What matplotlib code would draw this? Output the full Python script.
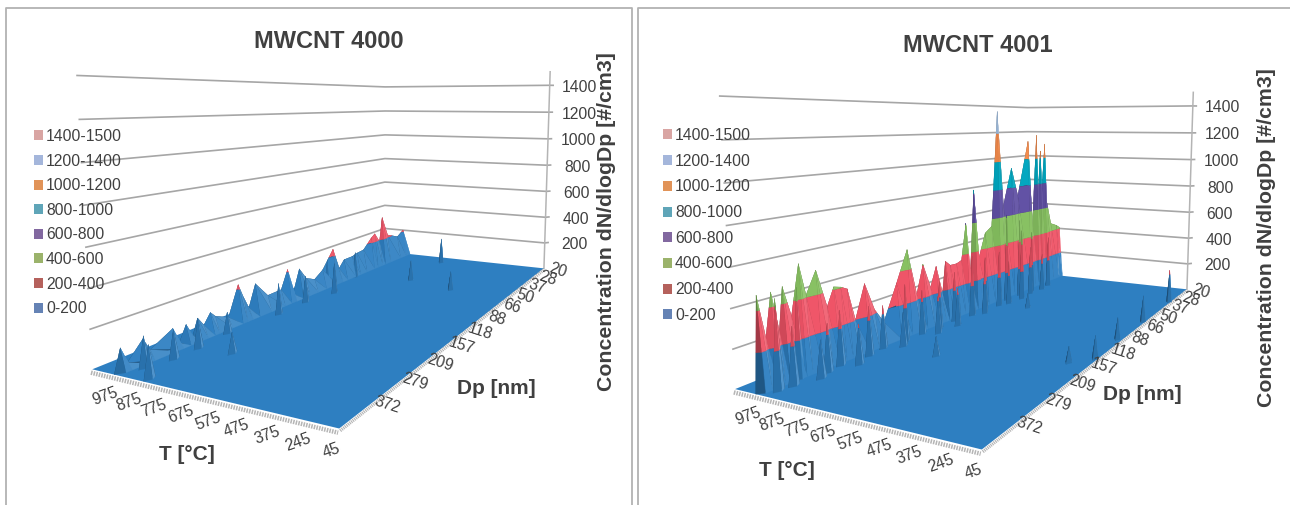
import numpy as np
import matplotlib
matplotlib.use("Agg")
import matplotlib.pyplot as plt
from matplotlib.colors import to_rgb
from matplotlib.lines import Line2D
from matplotlib.patches import Patch
from mpl_toolkits.mplot3d import proj3d
from mpl_toolkits.mplot3d.art3d import Poly3DCollection

plt.rcParams["font.family"] = ["Liberation Sans", "DejaVu Sans"]

W, H = 1290, 505

# axis categories
t_labels = ["45", "245", "375", "475", "575", "675", "775", "875", "975"]
dp_labels = ["20", "28", "37", "50", "66", "88", "118", "157", "209", "279", "372"]
z_ticks = [200, 400, 600, 800, 1000, 1200, 1400]
band_edges = [0, 200, 400, 600, 800, 1000, 1200, 1400, 1500]
band_labels = ["0-200", "200-400", "400-600", "600-800", "800-1000", "1000-1200", "1200-1400", "1400-1500"]
T_MAX, DP_MAX, Z_MAX = 8.9, 11.0, 1400.0

# surface colours per band and the paler legend swatches
band_colors = ["#2e7fc1", "#ef5366", "#86c060", "#5f4fa3", "#00a6bf", "#f28a4b", "#a5c3e6", "#e8a5a3"]
swatch_colors = ["#6583b5", "#b5615c", "#9bb36b", "#8268a0", "#5fa5b8", "#e19358", "#a4b6db", "#d9a5a3"]

# MWCNT 4000: ridge along the high temperature side (Dp channel, height)
ridge0_dp = [11.0, 10.85, 10.71, 10.35, 10.19, 9.63, 9.48, 9.29, 9.12, 8.98, 8.81, 8.62, 8.48, 8.09, 7.77, 7.61, 7.44,
             7.21, 6.79, 6.30, 6.05, 5.85, 5.59, 5.31, 4.96, 4.60, 4.13, 3.84, 3.60, 3.19, 2.94, 2.60, 2.18, 1.98, 1.71,
             1.56, 1.23, 0.62, 0.26, 0.0]
ridge0_z = [0, 118, 33, 120, 51, 116, 27, 110, 35, 122, 70, 126, 95, 58, 229, 144, 68,
            199, 99, 103, 218, 46, 195, 115, 86, 131, 250, 98, 147, 149, 161, 168, 239, 262, 188,
            373, 219, 176, 215, 0]
spike0_t = [6.75, 7.56, 5.96, 7.29, 7.45, 7.18, 6.88, 7.29, 4.9, 5.07, 2.6, 7.2, 7.6, 7.7, 7.5]
spike0_dp = [10.86, 10.53, 9.26, 9.33, 8.39, 6.86, 4.82, 9.97, 2.84, 0.6, 3.27, 5.8, 2.0, 4.4, 3.2]
spike0_z = [165, 160, 110, 160, 120, 190, 200, 150, 140, 190, 125, 170, 230, 190, 180]

# MWCNT 4001
ridge1_dp = [11.0, 10.90, 10.74, 10.60, 10.45, 10.35, 10.17, 9.97, 9.82, 9.57, 9.32, 9.14, 8.96, 8.79, 8.59, 8.31, 8.04,
             7.77, 7.35, 6.99, 6.69, 6.46, 6.20, 5.99, 5.76, 5.64, 5.45, 5.20, 5.0, 4.81, 4.64, 4.47, 4.26, 3.98, 3.68,
             3.41, 3.12, 2.73, 2.40, 1.87, 1.61, 1.41, 1.30, 1.19, 1.08, 0.94, 0.80, 0.54, 0.20, 0.0]
ridge1_z = [0, 475, 258, 473, 272, 486, 326, 581, 412, 528, 320, 416, 405, 385, 199, 388, 222,
            130, 337, 523, 232, 407, 248, 372, 187, 388, 353, 351, 365, 607, 246, 824, 348, 510, 548,
            1354, 680, 945, 733, 1135, 500, 1180, 720, 1055, 760, 1108, 650, 460, 433, 409]
spike1_t = [7.6, 7.5, 7.8, 7.4, 7.5, 7.3, 7.4, 7.2, 7.2, 7.0, 7.1, 6.9, 6.9, 6.7, 6.9, 6.8, 6.7,
            8.0, 7.9, 7.2, 7.0, 6.9, 6.7, 6.6, 6.6, 6.5, 6.4, 6.5, 6.5, 6.4,
            0.09, 0.1, 0.2, 0.1, 0.75, 5.37, 5.2]
spike1_dp = [10.7, 10.4, 10.1, 9.6, 9.2, 8.5, 8.0, 7.4, 6.8, 6.3, 5.6, 5.0, 4.4, 3.9, 3.3, 2.7, 2.1,
             10.85, 10.55, 9.9, 9.0, 7.7, 6.6, 5.9, 4.7, 3.6, 3.0, 2.4, 1.3, 1.8,
             1.57, 3.66, 5.2, 6.6, 7.05, 3.77, 7.9]
spike1_z = [420, 300, 470, 260, 300, 280, 250, 340, 270, 300, 320, 400, 360, 380, 620, 560, 450,
            300, 440, 200, 220, 200, 230, 240, 300, 300, 500, 350, 380, 270,
            230, 170, 130, 130, 90, 100, 110]


def clip_z(poly, level, keep_above):
    out = []
    for i in range(len(poly)):
        a, b = poly[i], poly[(i + 1) % len(poly)]
        ina = a[2] >= level if keep_above else a[2] <= level
        inb = b[2] >= level if keep_above else b[2] <= level
        if ina:
            out.append(a)
        if ina != inb:
            out.append(a + (b - a) * (level - a[2]) / (b[2] - a[2]))
    return out


def shade(color, tri):
    # flat shading like the Excel surface: dark to one side, pale to the other
    sp = np.array([T_MAX, DP_MAX, Z_MAX]) * np.array([1.0, 0.44, 0.98])
    n = np.cross((tri[1] - tri[0]) / sp, (tri[2] - tri[0]) / sp)
    n = n / (np.linalg.norm(n) + 1e-12)
    if n[2] < 0:
        n = -n
    d = n @ np.array([-0.6, -0.6, 0.5])
    f = 1 + (d - 0.5) * 0.6
    c = np.array(to_rgb(color))
    if f > 1:
        return c + (1 - c) * min((f - 1) * 0.8, 0.16)
    return c * max(f, 0.6)


def add_triangles(tris, polys, cols):
    for tri in tris:
        tri = np.array(tri, float)
        for i in range(len(band_colors)):
            lo, hi = band_edges[i], band_edges[i + 1]
            if tri[:, 2].max() <= lo or tri[:, 2].min() >= hi:
                continue
            p = clip_z(list(tri), lo, True)
            if len(p) >= 3:
                p = clip_z(p, hi, False)
            if len(p) >= 3:
                polys.append(np.array(p))
                cols.append(shade(band_colors[i], tri))


def ridge_triangles(t, dp, z, front, back):
    tris = []
    for j in range(len(t) - 1):
        k = j + 1
        fa, fb = (t[j] - front, dp[j], 0), (t[k] - front, dp[k], 0)
        ta, tb = (t[j], dp[j], z[j]), (t[k], dp[k], z[k])
        ba, bb = (t[j] + back, dp[j], 0), (t[k] + back, dp[k], 0)
        tris += [(ba, bb, ta), (bb, tb, ta), (fa, fb, ta), (fb, tb, ta)]
    return tris


def spike_triangles(t, dp, z, wt, wd):
    tris = []
    for a, b, c in zip(t, dp, z):
        top = (a, b, c)
        rim = [(a - wt, b, 0), (a, b + wd, 0), (a + wt, b, 0), (a, b - wd, 0)]
        for i in range(4):
            tris.append((rim[i], rim[(i + 1) % 4], top))
    return tris


def label(ax, x, y, z, s, dx, dy, rot=0):
    u, v, _ = proj3d.proj_transform(x, y, z, ax.get_proj())
    ax.annotate(s, (u, v), xytext=(dx, dy), textcoords="offset pixels", color="#404040", ha="center", va="center",
                fontsize=11.3, rotation=rot, zorder=6, annotation_clip=False)


def draw_panel(fig, rect, view, ridge_dp, ridge_z, ridge_ends, spikes):
    left, bottom, size = rect
    ax = fig.add_axes([left / W, bottom / H, size / W, size / H], projection="3d")
    ax.patch.set_alpha(0)
    ax.set_axis_off()
    ax.computed_zorder = False
    ax.view_init(elev=view[0], azim=view[1])
    ax.set_proj_type("persp", focal_length=view[2])
    ax.set_box_aspect((1, view[3], view[4]))
    ax.set_xlim(0, T_MAX, view_margin=0)
    ax.set_ylim(0, DP_MAX, view_margin=0)
    ax.set_zlim(0, Z_MAX, view_margin=0)

    # wall grid lines
    for z in z_ticks:
        ax.plot([T_MAX, T_MAX, 0, -0.12], [DP_MAX, 0, 0, -0.1], [z, z, z, z], color="#a6a6a6", lw=1.2, zorder=1,
                clip_on=False)
    ax.plot([0, 0], [0, 0], [0, 1500], color="#b4b4b4", lw=1.1, zorder=1, clip_on=False)

    # floor
    floor = np.array([[T_MAX, DP_MAX, 0], [0, DP_MAX, 0], [0, 0, 0], [T_MAX, 0, 0]])
    ax.add_collection3d(Poly3DCollection([floor], facecolors=band_colors[0], edgecolors="none", zorder=2))
    # tick comb along the two front edges
    ax.plot([T_MAX, 0], [DP_MAX + 0.03, DP_MAX + 0.03], [-14, -14], color="#b5b5b5", lw=3.2, ls=(0, (0.35, 0.25)),
            zorder=3, clip_on=False)
    ax.plot([-0.03, -0.03], [DP_MAX, 0], [-8, -8], color="#b5b5b5", lw=2.4, ls=(0, (0.35, 0.25)), zorder=3,
            clip_on=False)

    t_near, t_far = ridge_ends
    dp = np.array(ridge_dp)
    t = t_far + (t_near - t_far) * dp / DP_MAX
    tris = ridge_triangles(t, dp, ridge_z, 0.2, 0.12)
    tris += spike_triangles(*spikes, 0.12, 0.13)
    polys, cols = [], []
    add_triangles(tris, polys, cols)
    pc = Poly3DCollection(polys, facecolors=cols, edgecolors=cols, linewidths=0.15, zsort="average", zorder=4)
    ax.add_collection3d(pc)

    # tick labels
    for i, s in enumerate(t_labels):
        label(ax, i, DP_MAX, 0, s, -8, -22, 20)
    for i, s in enumerate(dp_labels):
        label(ax, 0, i, 0, s, 14, -2, -18)
    for z in z_ticks:
        label(ax, 0, 0, z, str(z), 30, -2)
    return ax


fig = plt.figure(figsize=(W / 100, H / 100), dpi=100)

# chart frames
frame = "#b2b2b2"
for xs, ys in (([6, 6, 632, 632], [505, 7.5, 7.5, 505]), ([638, 638, 1290], [505, 7.5, 7.5])):
    fig.add_artist(Line2D(np.array(xs) / W, 1 - np.array(ys) / H, color=frame, lw=1.3))

draw_panel(fig, (70, 8, 584.9), (7.48, 117.77, 0.231, 2.283, 1.016), ridge0_dp, ridge0_z, (7.95, 7.55),
           (spike0_t, spike0_dp, spike0_z))
draw_panel(fig, (714, -11.1, 581.9), (7.53, 118.05, 0.230, 2.253, 1.011), ridge1_dp, ridge1_z, (8.0, 6.96),
           (spike1_t, spike1_dp, spike1_z))

# titles and axis names
bold = dict(color="#404040", fontweight="bold", ha="center", va="center")
for s, x, y in (("MWCNT 4000", 329, 42), ("MWCNT 4001", 978, 45)):
    fig.text(x / W, 1 - y / H, s, fontsize=17, **bold)
for s, x, y in (("T [°C]", 187, 454), ("T [°C]", 787, 471), ("Dp [nm]", 496, 388), ("Dp [nm]", 1142, 394)):
    fig.text(x / W, 1 - y / H, s, fontsize=15, **bold)
for x, y in ((606, 222), (1266, 238)):
    fig.text(x / W, 1 - y / H, "Concentration dN/dlogDp [#/cm3]", fontsize=15.3, rotation=90, **bold)

# legends
handles = [Patch(facecolor=c, edgecolor="none") for c in swatch_colors][::-1]
for x, y, gap in ((34, 136, 24.6), (663, 135, 25.7)):
    fig.legend(handles, band_labels[::-1], loc="upper left", bbox_to_anchor=(x / W, 1 - (y - 7) / H), frameon=False,
               fontsize=11.3, handlelength=0.6, handleheight=0.6, handletextpad=0.17, borderpad=0, borderaxespad=0,
               labelspacing=(gap - 15) / 15.7, labelcolor="#404040")

fig.savefig("out.png", dpi=100)
